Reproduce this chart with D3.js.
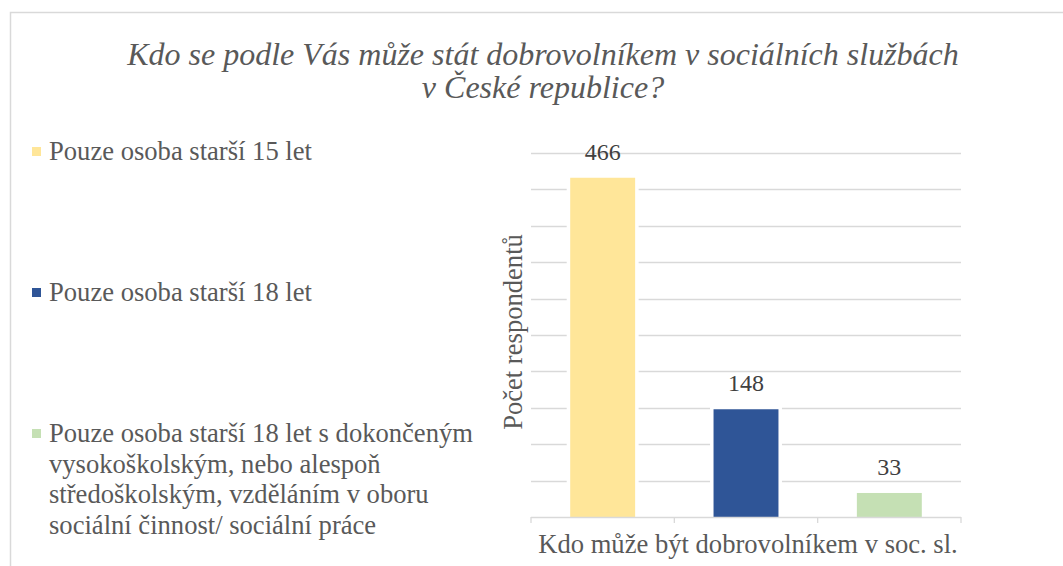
<!DOCTYPE html>
<html>
<head>
<meta charset="utf-8">
<script src="https://cdn.jsdelivr.net/npm/d3@7"></script>
<style>
  html, body { margin: 0; padding: 0; background: #fff; overflow: hidden; }
  svg { display: block; }
</style>
</head>
<body>
<svg id="chart" width="1063" height="566"></svg>
<script>
// ---- data ----
const titleLines = ["Kdo se podle Vás může stát dobrovolníkem v sociálních službách", "v České republice?"];
const seriesNames = [
  "Pouze osoba starší 15 let",
  "Pouze osoba starší 18 let",
  "Pouze osoba starší 18 let s dokončeným vysokoškolským, nebo alespoň středoškolským, vzděláním v oboru sociální činnost/ sociální práce"
];
const legendLines = [
  ["Pouze osoba starší 15 let"],
  ["Pouze osoba starší 18 let"],
  ["Pouze osoba starší 18 let s dokončeným", "vysokoškolským, nebo alespoň", "středoškolským, vzděláním v oboru", "sociální činnost/ sociální práce"]
];
const values = [466, 148, 33];
const colors = ["#FFE699", "#2F5597", "#C5E0B4"];
const yTicks = [0, 50, 100, 150, 200, 250, 300, 350, 400, 450, 500];
const xAxisTitle = "Kdo může být dobrovolníkem v soc. sl.";
const yAxisTitle = "Počet respondentů";

const FONT = "'Liberation Serif'";

// ---- layout ----
const svg = d3.select("#chart");
const plot = { left: 531, right: 961, top: 153, bottom: 517 };

// chart frame
svg.append("rect")
  .attr("x", 10.5).attr("y", 12.5).attr("width", 1200).attr("height", 700)
  .attr("fill", "#fff").attr("stroke", "#d9d9d9").attr("stroke-width", 1.5);

// title
svg.append("g").selectAll("text").data(titleLines).join("text")
  .attr("x", 543).attr("y", (d, i) => 65 + i * 33)
  .attr("text-anchor", "middle")
  .attr("font-size", 32).attr("font-style", "italic")
  .style("font-family", FONT)
  .attr("fill", "#595959")
  .text(d => d);

const x = d3.scaleBand().domain(seriesNames).range([plot.left, plot.right])
  .paddingInner(0.547).paddingOuter(0.2735);
const y = d3.scaleLinear().domain([0, 500]).range([plot.bottom, plot.top]);

// gridlines
svg.append("g").selectAll("line").data(yTicks.filter(t => t > 0)).join("line")
  .attr("x1", plot.left).attr("x2", plot.right)
  .attr("y1", d => Math.round(y(d)) + 0.5).attr("y2", d => Math.round(y(d)) + 0.5)
  .attr("stroke", "#d9d9d9").attr("stroke-width", 1.3);

// white halo behind bars
svg.append("g").selectAll("rect").data(values).join("rect")
  .attr("x", (d, i) => x(seriesNames[i]))
  .attr("width", x.bandwidth())
  .attr("y", d => y(d))
  .attr("height", d => y(0) - y(d))
  .attr("fill", "#fff")
  .attr("stroke", "#fff").attr("stroke-width", 7);

// bars
svg.append("g").selectAll("rect").data(values).join("rect")
  .attr("x", (d, i) => x(seriesNames[i]))
  .attr("width", x.bandwidth())
  .attr("y", d => y(d))
  .attr("height", d => y(0) - y(d))
  .attr("fill", (d, i) => colors[i]);

// x axis
const xAxisG = svg.append("g").attr("transform", `translate(0,${plot.bottom})`);
xAxisG.append("line").attr("x1", plot.left).attr("x2", plot.right)
  .attr("y1", 0.5).attr("y2", 0.5).attr("stroke", "#d9d9d9").attr("stroke-width", 1.3);
const boundaries = [plot.left].concat(seriesNames.map(s => x(s) + x.bandwidth() + x.step() * x.paddingInner() / 2));
xAxisG.selectAll("line.tick").data(boundaries).join("line").attr("class", "tick")
  .attr("x1", d => d).attr("x2", d => d).attr("y1", 0).attr("y2", 6)
  .attr("stroke", "#d9d9d9").attr("stroke-width", 1.3);

// data labels
svg.append("g").selectAll("text").data(values).join("text")
  .attr("x", (d, i) => x(seriesNames[i]) + x.bandwidth() / 2)
  .attr("y", d => y(d) - 18)
  .attr("text-anchor", "middle")
  .attr("font-size", 24).attr("fill", "#404040")
  .style("font-family", FONT)
  .text(d => d);

// axis titles
svg.append("text")
  .attr("x", (plot.left + plot.right) / 2 + 2).attr("y", 553)
  .attr("text-anchor", "middle").attr("font-size", 26.6).attr("fill", "#595959")
  .style("font-family", FONT)
  .text(xAxisTitle);
svg.append("text")
  .attr("transform", `translate(522,${(plot.top + plot.bottom) / 2 - 3}) rotate(-90)`)
  .attr("text-anchor", "middle").attr("font-size", 26.6).attr("fill", "#595959")
  .style("font-family", FONT)
  .text(yAxisTitle);

// legend
const legendY = [160, 301, 442];
const lg = svg.append("g");
legendLines.forEach((lines, i) => {
  lg.append("rect").attr("x", 32).attr("y", legendY[i] - 13).attr("width", 9).attr("height", 9)
    .attr("fill", colors[i]);
  lg.append("g").selectAll("text").data(lines).join("text")
    .attr("x", 49).attr("y", (d, j) => legendY[i] + j * 30.5)
    .attr("font-size", 26.6).attr("fill", "#595959")
    .style("font-family", FONT)
    .text(d => d);
});
</script>
</body>
</html>
